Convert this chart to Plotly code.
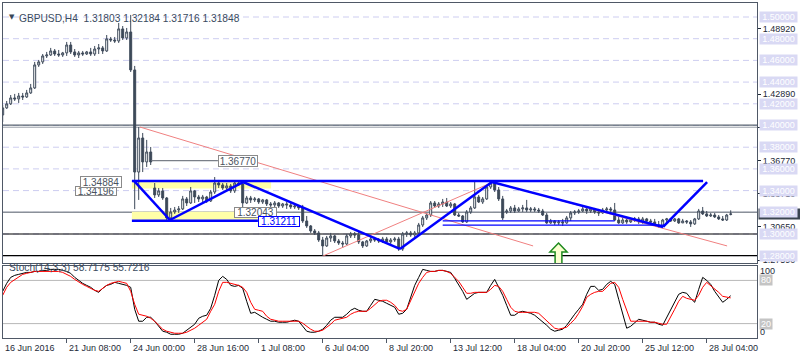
import plotly.graph_objects as go

# ---------------- data (GBPUSD H4) ----------------
opens = [
1.4097,1.4162,1.4199,1.4254,1.4245,1.4272,1.4263,1.4300,1.4346,1.4558,
1.4586,1.4641,1.4650,1.4687,1.4659,1.4650,1.4669,1.4742,1.4678,1.4650,
1.4669,1.4659,1.4678,1.4659,1.4705,1.4715,1.4687,1.4798,1.4788,1.4779,
1.4890,1.4807,1.4862,1.4512,1.3571,1.3885,1.3664,1.3756,1.3424,1.3360,
1.3397,1.3332,1.3148,1.3203,1.3221,1.3231,1.3323,1.3286,1.3397,1.3341,
1.3323,1.3341,1.3304,1.3387,1.3470,1.3452,1.3424,1.3443,1.3397,1.3470,
1.3461,1.3286,1.3332,1.3314,1.3323,1.3295,1.3314,1.3277,1.3268,1.3286,
1.3258,1.3277,1.3268,1.3249,1.3258,1.3240,1.3120,1.3074,1.3028,1.3010,
1.2945,1.2890,1.2963,1.2982,1.2936,1.2917,1.2908,1.2982,1.3000,1.2991,
1.2927,1.2890,1.2936,1.2954,1.2945,1.2936,1.2954,1.2927,1.2945,1.2954,
1.2862,1.3000,1.3010,1.2991,1.3010,1.3083,1.3148,1.3175,1.3286,1.3258,
1.3277,1.3295,1.3258,1.3277,1.3175,1.3166,1.3111,1.3203,1.3240,1.3341,
1.3295,1.3323,1.3433,1.3470,1.3406,1.3323,1.3203,1.3212,1.3240,1.3212,
1.3231,1.3240,1.3221,1.3231,1.3221,1.3212,1.3175,1.3102,1.3120,1.3102,
1.3111,1.3102,1.3148,1.3194,1.3203,1.3212,1.3231,1.3212,1.3231,1.3203,
1.3194,1.3221,1.3231,1.3221,1.3129,1.3102,1.3129,1.3111,1.3129,1.3139,
1.3111,1.3139,1.3120,1.3111,1.3083,1.3074,1.3129,1.3139,1.3120,1.3139,
1.3102,1.3120,1.3111,1.3093,1.3139,1.3212,1.3185,1.3166,1.3175,1.3157,
1.3139,1.3129,1.31803]

highs = [
1.4189,1.4226,1.4281,1.4291,1.4300,1.4300,1.4328,1.4383,1.4586,1.4604,
1.4659,1.4678,1.4715,1.4705,1.4696,1.4678,1.4770,1.4770,1.4705,1.4687,
1.4687,1.4687,1.4715,1.4733,1.4751,1.4733,1.4834,1.4816,1.4816,1.4945,
1.4917,1.4899,1.5019,1.4549,1.3986,1.3931,1.3867,1.3802,1.3470,1.3424,
1.3424,1.3341,1.3240,1.3249,1.3258,1.3351,1.3341,1.3433,1.3406,1.3360,
1.3360,1.3351,1.3406,1.3525,1.3498,1.3470,1.3470,1.3461,1.3489,1.3489,
1.3479,1.3351,1.3351,1.3341,1.3332,1.3323,1.3323,1.3295,1.3304,1.3295,
1.3286,1.3295,1.3286,1.3277,1.3268,1.3268,1.3166,1.3083,1.3046,1.3028,
1.2973,1.2982,1.3010,1.2991,1.2954,1.2936,1.3000,1.3019,1.3019,1.3019,
1.2936,1.2945,1.2973,1.2973,1.2963,1.2973,1.2973,1.2963,1.2973,1.2973,
1.3019,1.3028,1.3028,1.3028,1.3102,1.3166,1.3194,1.3304,1.3304,1.3295,
1.3323,1.3332,1.3295,1.3286,1.3194,1.3175,1.3221,1.3258,1.3479,1.3360,
1.3341,1.3452,1.3489,1.3479,1.3433,1.3351,1.3231,1.3258,1.3268,1.3249,
1.3268,1.3314,1.3249,1.3249,1.3240,1.3231,1.3194,1.3139,1.3129,1.3129,
1.3139,1.3166,1.3212,1.3221,1.3231,1.3249,1.3249,1.3249,1.3240,1.3231,
1.3240,1.3249,1.3249,1.3286,1.3166,1.3148,1.3139,1.3148,1.3157,1.3157,
1.3157,1.3148,1.3139,1.3139,1.3120,1.3139,1.3148,1.3148,1.3148,1.3148,
1.3139,1.3129,1.3129,1.3148,1.3231,1.3249,1.3212,1.3194,1.3194,1.3175,
1.3166,1.3185,1.32184]

lows = [
1.4033,1.4153,1.4189,1.4226,1.4208,1.4235,1.4254,1.4291,1.4337,1.4540,
1.4567,1.4622,1.4641,1.4641,1.4632,1.4632,1.4641,1.4659,1.4632,1.4622,
1.4641,1.4650,1.4641,1.4641,1.4659,1.4659,1.4678,1.4770,1.4761,1.4761,
1.4788,1.4788,1.4493,1.3229,1.3314,1.3571,1.3618,1.3636,1.3332,1.3341,
1.3314,1.3120,1.3120,1.3185,1.3194,1.3221,1.3258,1.3277,1.3286,1.3295,
1.3286,1.3286,1.3295,1.3369,1.3424,1.3406,1.3406,1.3378,1.3378,1.3443,
1.3212,1.3277,1.3286,1.3295,1.3277,1.3277,1.3258,1.3249,1.3240,1.3240,
1.3240,1.3231,1.3231,1.3231,1.3221,1.3102,1.3056,1.3010,1.2991,1.2927,
1.2798,1.2881,1.2927,1.2917,1.2899,1.2871,1.2899,1.2963,1.2963,1.2908,
1.2871,1.2881,1.2917,1.2927,1.2917,1.2917,1.2908,1.2908,1.2927,1.2844,
1.2844,1.2973,1.2973,1.2973,1.3000,1.3065,1.3129,1.3157,1.3240,1.3240,
1.3249,1.3249,1.3240,1.3166,1.3157,1.3102,1.3102,1.3185,1.3231,1.3286,
1.3277,1.3314,1.3415,1.3387,1.3304,1.3129,1.3185,1.3194,1.3194,1.3203,
1.3203,1.3203,1.3203,1.3203,1.3194,1.3166,1.3093,1.3093,1.3083,1.3083,
1.3074,1.3093,1.3120,1.3175,1.3185,1.3203,1.3185,1.3194,1.3185,1.3166,
1.3185,1.3203,1.3203,1.3120,1.3093,1.3093,1.3093,1.3102,1.3111,1.3093,
1.3093,1.3102,1.3093,1.3074,1.3056,1.3065,1.3093,1.3111,1.3111,1.3093,
1.3102,1.3093,1.3065,1.3083,1.3129,1.3175,1.3157,1.3157,1.3148,1.3129,
1.3120,1.3120,1.31716]

closes = [
1.4162,1.4199,1.4254,1.4245,1.4272,1.4263,1.4300,1.4346,1.4558,1.4586,
1.4641,1.4650,1.4687,1.4659,1.4650,1.4669,1.4742,1.4678,1.4650,1.4669,
1.4659,1.4678,1.4659,1.4705,1.4715,1.4687,1.4798,1.4788,1.4779,1.4890,
1.4807,1.4862,1.4512,1.3571,1.3885,1.3664,1.3756,1.3664,1.3360,1.3397,
1.3332,1.3148,1.3203,1.3221,1.3231,1.3323,1.3286,1.3397,1.3341,1.3323,
1.3341,1.3304,1.3387,1.3470,1.3452,1.3424,1.3443,1.3397,1.3470,1.3461,
1.3286,1.3332,1.3314,1.3323,1.3295,1.3314,1.3277,1.3268,1.3286,1.3258,
1.3277,1.3268,1.3249,1.3258,1.3240,1.3120,1.3074,1.3028,1.3010,1.2945,
1.2890,1.2963,1.2982,1.2936,1.2917,1.2908,1.2982,1.3000,1.2991,1.2927,
1.2890,1.2936,1.2954,1.2945,1.2936,1.2954,1.2927,1.2945,1.2954,1.2862,
1.3000,1.3010,1.2991,1.3010,1.3083,1.3148,1.3175,1.3286,1.3258,1.3277,
1.3295,1.3258,1.3277,1.3175,1.3166,1.3111,1.3203,1.3240,1.3341,1.3295,
1.3323,1.3433,1.3470,1.3406,1.3323,1.3148,1.3212,1.3240,1.3212,1.3231,
1.3240,1.3221,1.3231,1.3221,1.3212,1.3175,1.3102,1.3120,1.3102,1.3111,
1.3102,1.3148,1.3194,1.3203,1.3212,1.3231,1.3212,1.3231,1.3203,1.3194,
1.3221,1.3231,1.3221,1.3129,1.3102,1.3129,1.3111,1.3129,1.3139,1.3111,
1.3139,1.3120,1.3111,1.3083,1.3074,1.3129,1.3139,1.3120,1.3139,1.3102,
1.3120,1.3111,1.3093,1.3139,1.3212,1.3185,1.3166,1.3175,1.3157,1.3139,
1.3129,1.3175,1.31848]

stoch_k = [
64.8,75.9,84.2,87.0,88.4,89.8,91.1,91.1,92.5,92.5,
93.9,93.9,95.3,95.3,95.3,93.9,92.5,89.8,84.2,80.1,
75.9,73.1,70.4,66.2,63.4,69.0,73.1,74.5,77.3,75.9,
74.5,73.1,70.4,39.9,23.3,23.3,28.8,28.8,23.3,16.3,
9.4,8.0,5.2,5.2,5.2,6.6,10.8,14.9,19.1,27.4,
30.2,31.6,41.3,59.3,80.1,85.6,81.4,73.1,71.7,73.1,
69.0,51.0,34.3,35.7,31.6,28.8,26.0,23.3,23.3,21.9,
21.9,21.9,23.3,24.7,23.3,16.3,9.4,8.0,8.0,9.4,
12.2,17.7,24.7,28.8,28.8,28.8,33.0,38.5,41.3,38.5,
37.1,37.1,45.4,53.7,52.4,51.0,48.2,45.4,42.7,33.0,
34.3,39.9,55.1,73.1,84.2,95.3,93.9,92.5,92.5,93.9,
93.9,92.5,91.1,82.8,74.5,64.8,53.7,57.9,62.1,63.4,
63.4,63.4,73.1,81.4,70.4,59.3,45.4,31.6,31.6,35.7,
37.1,35.7,34.3,31.6,27.4,21.9,17.7,12.2,9.4,10.8,
12.2,17.7,26.0,33.0,39.9,46.8,60.7,71.7,71.7,66.2,
67.6,74.5,78.7,74.5,53.7,33.0,13.6,16.3,20.5,26.0,
24.7,23.3,21.9,21.9,19.1,17.7,28.8,39.9,51.0,60.7,
63.4,62.1,55.1,49.6,67.6,84.2,80.1,74.5,64.8,56.5,
49.6,53.7,58.7175]

stoch_d = [
59.3,70.4,77.3,81.4,85.6,88.4,89.8,91.1,92.5,92.5,
92.5,92.5,92.5,92.5,92.5,91.1,88.4,85.6,81.4,77.3,
74.5,71.7,69.0,66.2,64.8,69.0,73.1,75.9,77.3,78.7,
77.3,75.9,64.8,46.8,33.0,31.6,30.2,27.4,23.3,17.7,
12.2,9.4,8.0,6.6,6.6,6.6,8.0,10.8,13.6,17.7,
21.9,26.0,37.1,46.8,64.8,77.3,77.3,75.9,74.5,73.1,
70.4,63.4,49.6,39.9,38.5,37.1,30.2,26.0,24.7,23.3,
23.3,23.3,23.3,23.3,23.3,20.5,16.3,12.2,9.4,9.4,
10.8,14.9,19.1,24.7,26.0,27.4,28.8,33.0,35.7,37.1,
37.1,37.1,41.3,46.8,51.0,52.4,52.4,49.6,45.4,38.5,
37.1,39.9,52.4,64.8,75.9,84.2,91.1,92.5,92.5,93.9,
93.9,92.5,89.8,84.2,78.7,70.4,62.1,62.1,63.4,63.4,
63.4,63.4,67.6,73.1,71.7,64.8,53.7,42.7,37.1,35.7,
35.7,35.7,35.7,35.7,34.3,28.8,23.3,17.7,13.6,12.2,
13.6,14.9,20.5,26.0,34.3,44.0,56.5,60.7,63.4,64.8,
64.8,70.4,75.9,77.3,70.4,53.7,37.1,23.3,23.3,23.3,
23.3,23.3,21.9,21.9,20.5,19.1,19.1,28.8,39.9,51.0,
57.9,55.1,53.7,52.4,59.3,70.4,77.3,73.1,67.6,63.4,
57.9,56.5,55.7216]

tick_bars = [0, 16, 32, 48, 64, 80, 96, 112, 128, 144, 160, 176]
tick_labels = ["16 Jun 2016", "21 Jun 08:00", "24 Jun 00:00", "28 Jun 16:00",
               "1 Jul 08:00", "6 Jul 04:00", "8 Jul 20:00", "13 Jul 12:00",
               "18 Jul 04:00", "20 Jul 20:00", "25 Jul 12:00", "28 Jul 04:00"]

grid_levels = [1.50, 1.48, 1.46, 1.44, 1.42, 1.40, 1.38, 1.36, 1.34, 1.32, 1.30, 1.28]
scale_levels = [1.4892, 1.4289, 1.3983, 1.3677, 1.3371, 1.3065, 1.2759]
scale_text = ["1.48920", "1.42890", "1.39830", "1.36770", "1.33710", "1.30650", "1.27590"]

last_ohlc = [1.31803, 1.32184, 1.31716, 1.31848]
stoch_last = [58.7175, 55.7216]

assert len(opens) == len(highs) == len(lows) == len(closes) == len(stoch_k) == len(stoch_d)
bars = list(range(len(closes)))

# ---------------- style ----------------
CANDLE = "#3d4959"
BORDER = "#4f5866"
TXT = "#1e2a38"
FONT = "Liberation Sans"
BLUE = "#0000ff"
RED = "#f08080"
XR = [0.075, 188.575]
YR = [1.27327, 1.5129]

fig = go.Figure()
fig.add_trace(go.Candlestick(
    x=bars, open=opens, high=highs, low=lows, close=closes,
    increasing=dict(line=dict(color=CANDLE, width=1), fillcolor="white"),
    decreasing=dict(line=dict(color=CANDLE, width=1), fillcolor=CANDLE),
    whiskerwidth=0, xaxis="x", yaxis="y", showlegend=False, hoverinfo="skip"))
fig.add_trace(go.Scatter(x=bars, y=stoch_k, mode="lines", line=dict(color="black", width=1),
                         xaxis="x2", yaxis="y2", showlegend=False, hoverinfo="skip"))
fig.add_trace(go.Scatter(x=bars, y=stoch_d, mode="lines", line=dict(color="#ff0000", width=1),
                         xaxis="x2", yaxis="y2", showlegend=False, hoverinfo="skip"))

shapes = []
# dashed horizontal level lines
for lv in grid_levels:
    shapes.append(dict(type="line", xref="paper", x0=0, x1=1, yref="y", y0=lv, y1=lv,
                       line=dict(color="#cdcdf0", width=1, dash="6px,4px"), layer="below"))
# solid level lines
for lv, col, w in [(1.4003, "#5a6470", 1.2), (1.3984, "#9aa0aa", 1.0), (1.3200, "#8a9099", 1.4),
                   (1.3000, "#000000", 1.2), (1.2800, "#000000", 1.2)]:
    shapes.append(dict(type="line", xref="paper", x0=0, x1=1, yref="y", y0=lv, y1=lv,
                       line=dict(color=col, width=w), layer="below"))
# yellow zones
shapes.append(dict(type="rect", xref="x", yref="y", x0=32.3, x1=67.1, y0=1.34196, y1=1.34884,
                   fillcolor="#ffffa8", line=dict(width=0), layer="below"))
shapes.append(dict(type="rect", xref="x", yref="y", x0=32.3, x1=63.8, y0=1.31211, y1=1.32043,
                   fillcolor="#ffffa8", line=dict(width=0), layer="below"))
# red channel lines
for (xa, ya, xb, yb) in [(34.3, 1.3986, 132.6, 1.2890), (80.1, 1.2798, 122.6, 1.3479),
                         (122.6, 1.3479, 181.1, 1.2890)]:
    shapes.append(dict(type="line", xref="x", yref="y", x0=xa, y0=ya, x1=xb, y1=yb,
                       line=dict(color=RED, width=1)))
# thin blue lines
shapes.append(dict(type="line", xref="x", yref="y", x0=110, x1=153, y0=1.3120, y1=1.3120,
                   line=dict(color=BLUE, width=1.2)))
shapes.append(dict(type="line", xref="x", yref="y", x0=110, x1=165.5, y0=1.3081, y1=1.3081,
                   line=dict(color=BLUE, width=1.2)))
# thick blue structure lines
shapes.append(dict(type="line", xref="x", yref="y", x0=32.3, x1=175.1, y0=1.34884, y1=1.34884,
                   line=dict(color=BLUE, width=2.5)))
shapes.append(dict(type="line", xref="x", yref="y", x0=32.3, x1=63.8, y0=1.31211, y1=1.31211,
                   line=dict(color=BLUE, width=2.5)))
zz = [(32.9, 1.3488), (41.8, 1.3129), (60.1, 1.3479), (99.3, 1.2862),
      (122.3, 1.3479), (165.1, 1.3065), (176.1, 1.3479)]
for a, b in zip(zz[:-1], zz[1:]):
    shapes.append(dict(type="line", xref="x", yref="y", x0=a[0], y0=a[1], x1=b[0], y1=b[1],
                       line=dict(color=BLUE, width=2.5)))
# 1.36770 label leader line
shapes.append(dict(type="line", xref="x", yref="y", x0=37.2, x1=53.8, y0=1.3677, y1=1.3677,
                   line=dict(color="#7a7f88", width=1.3)))
# green arrow
shapes.append(dict(type="path", xref="x", yref="y",
                   path="M 138.95 1.2917 L 141.1 1.2834 L 139.8 1.2834 L 139.8 1.2700 "
                        "L 138.1 1.2700 L 138.1 1.2834 L 136.8 1.2834 Z",
                   fillcolor="#fbffd0", line=dict(color="#1e8a1e", width=1.5)))
# stochastic levels
for lv in [80, 20]:
    shapes.append(dict(type="line", xref="paper", x0=0, x1=1, yref="y2", y0=lv, y1=lv,
                       line=dict(color="#b8b8b8", width=1), layer="below"))

ann = []
# price label boxes on chart
def box(x, y, text, w, h, border="#8a8a8a", color="#4a5360"):
    ann.append(dict(x=x, y=y, xref="x", yref="y", text=text, showarrow=False,
                    width=w, height=h, bgcolor="white", bordercolor=border, borderwidth=1,
                    borderpad=0, font=dict(family=FONT, size=10, color=color)))
box(58.8, 1.3673, "1.36770", 38, 10)
box(23.3, 1.3392, "1.34196", 40, 8)
box(24.6, 1.3475, "1.34884", 40, 10)
box(63.1, 1.3198, "1.32043", 41, 9)
box(69.1, 1.3111, "1.31211", 40, 9, border=BLUE, color=BLUE)

# right price axis: current price marker, then lavender level labels
ann.append(dict(x=1, xref="paper", xanchor="left", xshift=1, y=last_ohlc[3], yref="y",
                text=f"{last_ohlc[3]:.5f}", showarrow=False, bgcolor="#3a4450", width=41, height=10,
                borderpad=0, font=dict(family=FONT, size=9, color="white")))
for lv in grid_levels:
    ann.append(dict(x=1, xref="paper", xanchor="left", xshift=2, y=lv, yref="y",
                    text=f"{lv:.5f}", showarrow=False, bgcolor="#d9d9f4", width=37, height=10,
                    borderpad=0, font=dict(family=FONT, size=9, color="white")))
# stochastic axis labels
for v, t, boxed in [(92.5, "100", False), (80, "80", True), (20, "20", True), (8.5, "0", False)]:
    d = dict(x=1, xref="paper", xanchor="left", xshift=2, y=v, yref="y2", text=t,
             showarrow=False, borderpad=0, font=dict(family=FONT, size=9, color="white" if boxed else TXT))
    if boxed:
        d.update(bgcolor="#c4c4c4", width=12, height=10)
    ann.append(d)
# time labels (paper-anchored so the first one at the left edge is not hidden)
for b, t in zip(tick_bars, tick_labels):
    px = max(0.0, (b - XR[0]) / (XR[1] - XR[0]))
    ann.append(dict(x=px, xref="paper", xanchor="left", y=0, yref="paper", yanchor="top", yshift=-3,
                    text=t, showarrow=False, font=dict(family=FONT, size=9, color=TXT)))
# titles
ann.append(dict(x=0.005, xref="paper", xanchor="left", y=0.976, yref="paper", text="▼",
                showarrow=False, font=dict(family="DejaVu Sans", size=7, color="#3a4656")))
ann.append(dict(x=0.0185, xref="paper", xanchor="left", y=0.976, yref="paper",
                text="GBPUSD,H4  " + " ".join(f"{v:.5f}" for v in last_ohlc),
                showarrow=False, font=dict(family=FONT, size=10.2, color="#3a4a60")))
ann.append(dict(x=0.005, xref="paper", xanchor="left", y=0.188, yref="paper",
                text=f"Stoch(14,3,3) {stoch_last[0]:.4f} {stoch_last[1]:.4f}",
                showarrow=False, font=dict(family=FONT, size=10.2, color="#3a4a60")))

fig.update_layout(
    width=800, height=360, margin=dict(l=3, r=43, t=3, b=22),
    paper_bgcolor="white", plot_bgcolor="white", showlegend=False,
    shapes=shapes, annotations=ann, hovermode=False,
    xaxis=dict(domain=[0, 1], anchor="y", range=XR, showgrid=False, zeroline=False,
               showticklabels=False, ticks="", showline=True, mirror=True, linecolor=BORDER,
               linewidth=1, rangeslider=dict(visible=False)),
    yaxis=dict(domain=[0.2239, 1], anchor="x", side="right", range=YR,
               tickmode="array", tickvals=scale_levels, ticktext=scale_text,
               ticks="outside", ticklen=3, tickcolor=TXT,
               tickfont=dict(family=FONT, size=9, color=TXT), automargin=False,
               showgrid=False, zeroline=False, showline=True, mirror=True, linecolor=BORDER),
    xaxis2=dict(domain=[0, 1], anchor="y2", range=XR, tickmode="array", tickvals=tick_bars,
                ticks="outside", ticklen=4, tickcolor=BORDER, showticklabels=False,
                showgrid=False, zeroline=False, showline=True, mirror=True, linecolor=BORDER),
    yaxis2=dict(domain=[0, 0.2149], anchor="x2", range=[0, 100], showticklabels=False,
                ticks="", showgrid=False, zeroline=False, showline=True, mirror=True,
                linecolor=BORDER),
)

fig.write_html("out.html", config={"displayModeBar": False},
               post_script="document.body.style.margin='0px';document.body.style.padding='0px';")
